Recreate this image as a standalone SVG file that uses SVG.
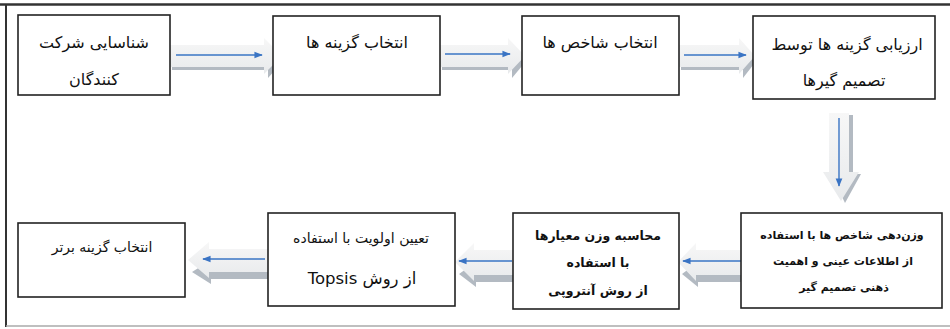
<svg xmlns="http://www.w3.org/2000/svg" width="950" height="329" viewBox="0 0 950 329">
<style>
.box{fill:#fff;stroke:#222;stroke-width:1.6}
.t{font-family:"DejaVu Sans","Noto Sans",sans-serif;font-size:16px;fill:#111;text-anchor:middle}
.s{font-size:14px}
.b{font-family:"DejaVu Sans","Noto Sans",sans-serif;font-size:12.5px;font-weight:bold;fill:#111;text-anchor:middle}
.bs{font-size:11px}
.blue{stroke:#3a74c4;stroke-width:1.4;fill:none}
.sh{fill:#9aa3ad;opacity:0.75}
.af{fill:url(#g)}
</style>
<defs>
<linearGradient id="g" x1="0" y1="0" x2="0" y2="1">
<stop offset="0" stop-color="#f7f7f7"/><stop offset="1" stop-color="#e8eaec"/>
</linearGradient>
<marker id="m" viewBox="0 0 10 10" refX="9" refY="5" markerWidth="6" markerHeight="6" orient="auto">
<path d="M0,1 L10,5 L0,9 z" fill="#3a74c4"/>
</marker>
</defs>
<line x1="0" y1="4.5" x2="950" y2="4.5" stroke="#333" stroke-width="2.5"/>
<line x1="6" y1="4" x2="6" y2="327" stroke="#333" stroke-width="2"/>
<line x1="6" y1="326" x2="950" y2="326" stroke="#aaa" stroke-width="1.5"/>
<g id="connectors">
<g id="c1">
<polygon class="sh" points="172,52 266,52 266,45 284,60 268,78 268,70 172,70"/>
<polygon class="af" points="170,45 264,45 264,38 282,56 264,74 264,67 170,67"/>
<line class="blue" x1="176" y1="55" x2="262" y2="55" marker-end="url(#m)"/>
</g>
<g id="c2">
<polygon class="sh" points="442,52 510,52 510,45 527,60 512,78 512,70 442,70"/>
<polygon class="af" points="440,45 508,45 508,38 525,56 508,74 508,67 440,67"/>
<line class="blue" x1="445" y1="54" x2="510" y2="54" marker-end="url(#m)"/>
</g>
<g id="c3">
<polygon class="sh" points="681,52 741,52 741,45 757,60 743,78 743,70 681,70"/>
<polygon class="af" points="679,45 739,45 739,38 755,56 739,74 739,67 679,67"/>
<line class="blue" x1="684" y1="55" x2="746" y2="55" marker-end="url(#m)"/>
</g>
<g id="c4">
<polygon class="sh" points="835,115 853,115 853,174 861,174 845,203 831,174 835,174"/>
<polygon class="af" points="829,113 849,113 849,172 859,172 841,201 823,172 829,172"/>
<line class="blue" x1="839" y1="118" x2="839" y2="186" marker-end="url(#m)"/>
</g>
<g id="c5">
<polygon class="sh" points="747,255 698,255 698,262 682,274 698,287 698,282 747,282"/>
<polygon class="af" points="745,250 696,250 696,243 678,262 696,281 696,275 745,275"/>
<line class="blue" x1="742" y1="261" x2="683" y2="261" marker-end="url(#m)"/>
</g>
<g id="c6">
<polygon class="sh" points="515,255 476,255 476,262 459,274 476,287 476,282 515,282"/>
<polygon class="af" points="513,250 474,250 474,243 455,262 474,281 474,275 513,275"/>
<line class="blue" x1="512" y1="261" x2="459" y2="261" marker-end="url(#m)"/>
</g>
<g id="c7">
<polygon class="sh" points="270,254 211,254 211,260 192,272 211,284 211,279 270,279"/>
<polygon class="af" points="268,249 209,249 209,242 188,260 209,278 209,272 268,272"/>
<line class="blue" x1="265" y1="259" x2="203" y2="259" marker-end="url(#m)"/>
</g>
</g>
<g id="n1"><rect class="box" x="18" y="15" width="152" height="80"/>
<text class="t" x="94" y="48" direction="rtl">شناسایی شرکت</text>
<text class="t" x="94" y="85" direction="rtl">کنندگان</text></g>
<g id="n2"><rect class="box" x="273" y="16" width="167" height="79"/>
<text class="t" x="357" y="48" direction="rtl">انتخاب گزینه ها</text></g>
<g id="n3"><rect class="box" x="522" y="16" width="157" height="79"/>
<text class="t" x="600" y="48" direction="rtl">انتخاب شاخص ها</text></g>
<g id="n4"><rect class="box" x="753" y="16" width="182" height="83"/>
<text class="t" x="847" y="50" direction="rtl">ارزیابی گزینه ها توسط</text>
<text class="t" x="844" y="86" direction="rtl">تصمیم گیرها</text></g>
<g id="n5"><rect class="box" x="741" y="213" width="201" height="95"/>
<text class="b bs" x="842" y="239" direction="rtl">وزن‌دهی شاخص ها با استفاده</text>
<text class="b bs" x="843" y="265" direction="rtl">از اطلاعات عینی و اهمیت</text>
<text class="b bs" x="844" y="291" direction="rtl">ذهنی تصمیم گیر</text></g>
<g id="n6"><rect class="box" x="513" y="213" width="166" height="96"/>
<text class="b" x="598" y="240" direction="rtl">محاسبه وزن معیارها</text>
<text class="b" x="598" y="267" direction="rtl">با استفاده</text>
<text class="b" x="598" y="295" direction="rtl">از روش آنتروپی</text></g>
<g id="n7"><rect class="box" x="268" y="213" width="187" height="93"/>
<text class="t s" x="361" y="243" direction="rtl">تعیین اولویت با استفاده</text>
<text class="t" x="362" y="284" direction="rtl" style="font-size:16.5px">از روش Topsis</text></g>
<g id="n8"><rect class="box" x="18" y="223" width="167" height="74"/>
<text class="t s" x="102" y="252" direction="rtl">انتخاب گزینه برتر</text></g>
</svg>
